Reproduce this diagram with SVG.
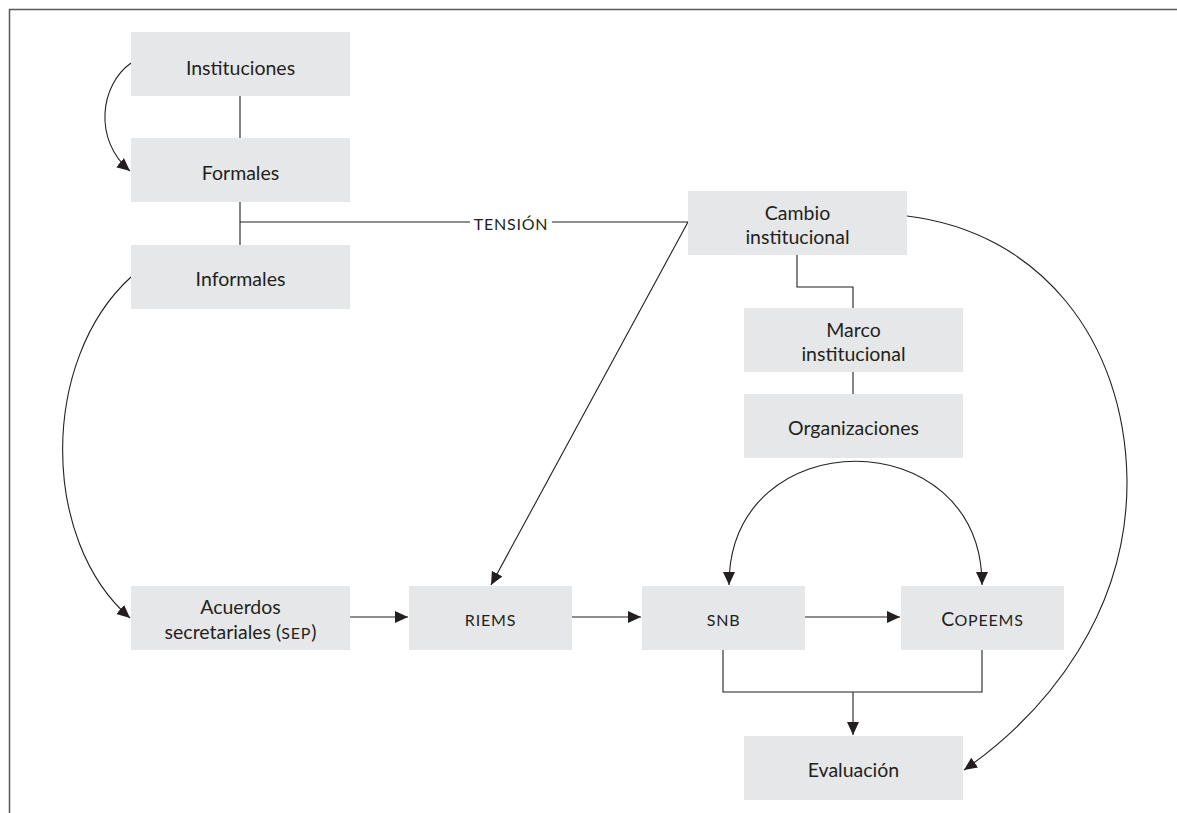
<svg xmlns="http://www.w3.org/2000/svg" width="1177" height="813" viewBox="0 0 1177 813">
  <style>
    .box { fill: #e6e7e8; }
    .lbl { font-family: Lato, "Open Sans", "Liberation Sans", sans-serif; font-size: 19.5px; fill: #231f20; text-anchor: middle; }
    .sc { font-size: 16px; letter-spacing: 0.8px; }
    .ln { fill: none; stroke: #231f20; stroke-width: 1.1; }
    .frame { fill: none; stroke: #5a5a5a; stroke-width: 1.5; }
  </style>
  <defs>
    <marker id="arr" markerUnits="userSpaceOnUse" markerWidth="16" markerHeight="14" refX="13" refY="6" orient="auto-start-reverse">
      <path d="M0,0 L13,6 L0,12 z" fill="#231f20"/>
    </marker>
  </defs>

  <rect width="1177" height="813" fill="#ffffff"/>
  <!-- outer frame -->
  <path class="frame" d="M9.5,813 L9.5,9.5 L1177,9.5"/>

  <!-- connectors -->
  <g id="connectors">
    <path class="ln" d="M240,96 L240,138"/>
    <path class="ln" d="M240,202 L240,245"/>
    <path class="ln" d="M240,222 L470,222"/>
    <path class="ln" d="M552,222 L688,222"/>
    <path class="ln" d="M797,255 L797,287 L853,287 L853,308"/>
    <path class="ln" d="M853,372 L853,394"/>
    <path class="ln" marker-end="url(#arr)" d="M131,63 C100,85 93,140 130,171"/>
    <path class="ln" marker-end="url(#arr)" d="M131,277 C40,360 40,540 130,618"/>
    <path class="ln" marker-end="url(#arr)" d="M688,222 L491,585"/>
    <path class="ln" marker-end="url(#arr)" d="M907,216 C1040,232 1125,340 1127,480 C1128,610 1050,710 964,770"/>
    <path class="ln" marker-start="url(#arr)" marker-end="url(#arr)" d="M729,585 C729,420 982,420 982,585"/>
    <path class="ln" marker-end="url(#arr)" d="M350,617 L408,617"/>
    <path class="ln" marker-end="url(#arr)" d="M572,617 L641,617"/>
    <path class="ln" marker-end="url(#arr)" d="M805,617 L900,617"/>
    <path class="ln" d="M723,650 L723,692 L982,692 L982,650"/>
    <path class="ln" marker-end="url(#arr)" d="M853,692 L853,735"/>
    <text class="lbl" x="511" y="230" style="font-size:16px;letter-spacing:0.8px">TENSIÓN</text>
  </g>

  <g id="instituciones">
    <rect class="box" x="131" y="32" width="219" height="64"/>
    <text class="lbl" x="240.5" y="74.5">Instituciones</text>
  </g>
  <g id="formales">
    <rect class="box" x="131" y="138" width="219" height="64"/>
    <text class="lbl" x="240.5" y="180">Formales</text>
  </g>
  <g id="informales">
    <rect class="box" x="131" y="245" width="219" height="64"/>
    <text class="lbl" x="240.5" y="285.5">Informales</text>
  </g>
  <g id="cambio">
    <rect class="box" x="688" y="191" width="219" height="64"/>
    <text class="lbl" x="797.5" y="220">Cambio</text>
    <text class="lbl" x="797.5" y="244">institucional</text>
  </g>
  <g id="marco">
    <rect class="box" x="744" y="308" width="219" height="64"/>
    <text class="lbl" x="853.5" y="337">Marco</text>
    <text class="lbl" x="853.5" y="361">institucional</text>
  </g>
  <g id="organizaciones">
    <rect class="box" x="744" y="394" width="219" height="64"/>
    <text class="lbl" x="853.5" y="435">Organizaciones</text>
  </g>
  <g id="acuerdos">
    <rect class="box" x="131" y="586" width="219" height="64"/>
    <text class="lbl" x="240.5" y="614">Acuerdos</text>
    <text class="lbl" x="240.5" y="639">secretariales (<tspan class="sc">SEP</tspan>)</text>
  </g>
  <g id="riems">
    <rect class="box" x="409" y="586" width="163" height="64"/>
    <text class="lbl sc" x="490.5" y="626">RIEMS</text>
  </g>
  <g id="snb">
    <rect class="box" x="642" y="586" width="163" height="64"/>
    <text class="lbl sc" x="723.5" y="626">SNB</text>
  </g>
  <g id="copeems">
    <rect class="box" x="901" y="586" width="163" height="64"/>
    <text class="lbl" x="982.5" y="626">C<tspan class="sc">OPEEMS</tspan></text>
  </g>
  <g id="evaluacion">
    <rect class="box" x="744" y="736" width="219" height="64"/>
    <text class="lbl" x="853.5" y="777">Evaluación</text>
  </g>
</svg>
